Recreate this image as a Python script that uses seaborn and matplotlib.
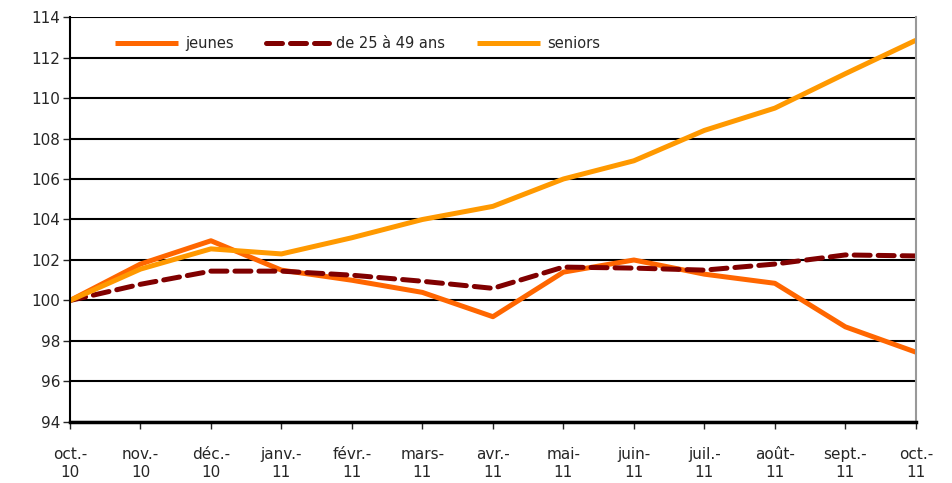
import matplotlib
matplotlib.use('Agg')
import matplotlib.pyplot as plt
import seaborn as sns
import pandas as pd

months = ['oct.-\n10', 'nov.-\n10', 'déc.-\n10', 'janv.-\n11', 'févr.-\n11', 'mars-\n11',
          'avr.-\n11', 'mai-\n11', 'juin-\n11', 'juil.-\n11', 'août-\n11', 'sept.-\n11', 'oct.-\n11']
jeunes = [100.0, 101.8, 102.95, 101.5, 101.0, 100.4, 99.2, 101.4, 102.0, 101.3, 100.85, 98.7, 97.45]
adultes = [100.0, 100.8, 101.45, 101.45, 101.25, 100.95, 100.6, 101.65, 101.6, 101.5, 101.8, 102.25, 102.2]
seniors = [100.0, 101.55, 102.55, 102.3, 103.1, 104.0, 104.65, 106.0, 106.9, 108.4, 109.5, 111.2, 112.85]

df = pd.DataFrame({'x': range(len(months)), 'jeunes': jeunes,
                   'de 25 à 49 ans': adultes, 'seniors': seniors})

sns.set_style('white')
plt.rcParams['font.family'] = ['DejaVu Sans']

fig = plt.figure(figsize=(9.52, 4.83), dpi=100)
ax = fig.add_axes([0.0735, 0.1263, 0.8885, 0.8385])

sns.lineplot(data=df, x='x', y='jeunes', ax=ax, color='#FF6600', linewidth=3.6,
             label='jeunes', solid_capstyle='butt')
sns.lineplot(data=df, x='x', y='de 25 à 49 ans', ax=ax, color='#800000', linewidth=3.6,
             label='de 25 à 49 ans')
ax.lines[-1].set_dashes([3.2, 1.6])
ax.lines[-1].set_dash_capstyle('round')
sns.lineplot(data=df, x='x', y='seniors', ax=ax, color='#FF9900', linewidth=3.6,
             label='seniors', solid_capstyle='butt')

ax.set_xlim(0, len(months) - 1)
ax.set_ylim(94, 114)
ax.set_yticks(range(94, 115, 2))
ax.set_xticks(range(len(months)))
ax.set_xticklabels(months, fontsize=11, linespacing=1.25)
ax.tick_params(axis='y', labelsize=11, length=5, width=1, direction='out', left=True, pad=2)
ax.tick_params(axis='x', length=5, width=1, direction='out', bottom=True, pad=13)
ax.set_xlabel('')
ax.set_ylabel('')

ax.grid(axis='y', color='black', linewidth=1.5)
ax.grid(axis='x', visible=False)
ax.spines['top'].set_visible(False)
ax.spines['left'].set_color('black')
ax.spines['left'].set_linewidth(1.5)
ax.spines['bottom'].set_color('black')
ax.spines['bottom'].set_linewidth(2.5)
ax.spines['right'].set_color('#999999')
ax.spines['right'].set_linewidth(1.5)

ax.legend(loc='upper left', bbox_to_anchor=(0.038, 0.985), ncol=3, frameon=False,
          fontsize=10.5, handlelength=4.3, columnspacing=2.2, handletextpad=0.5)

fig.savefig('out.png', dpi=100)
